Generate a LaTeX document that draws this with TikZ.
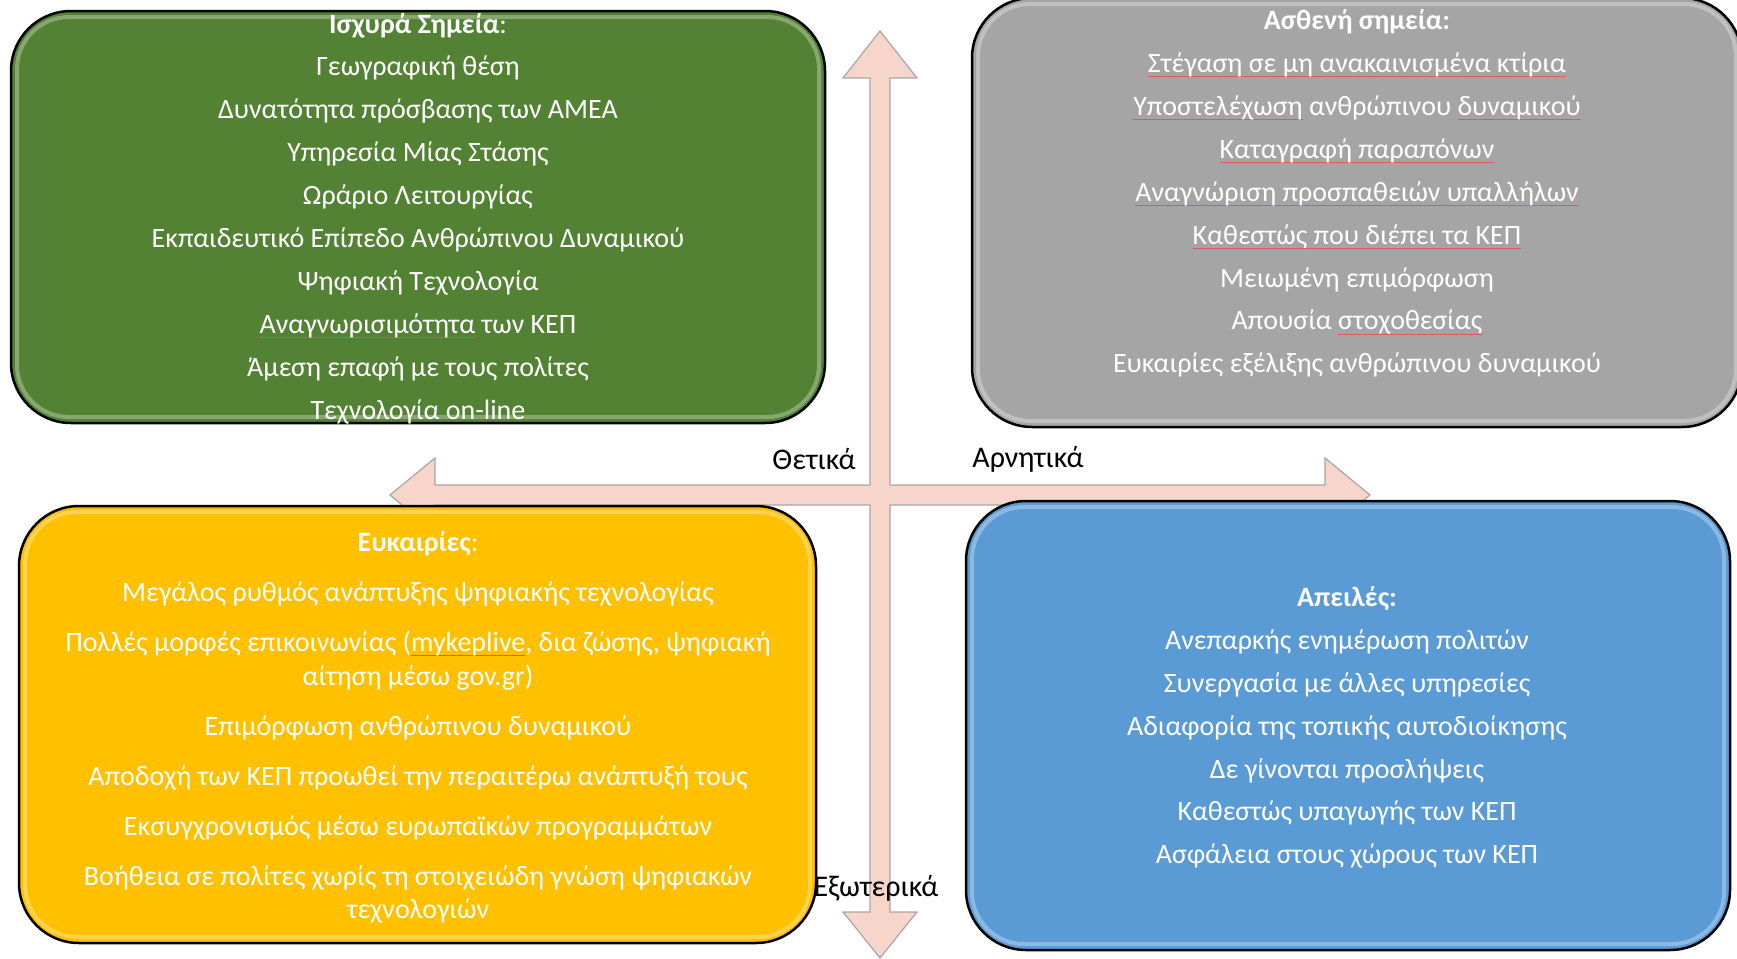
\documentclass[tikz,border=0pt]{standalone}
\usepackage{fontspec}
\setmainfont{Carlito}
\definecolor{sgreen}{HTML}{548235}
\definecolor{sgray}{HTML}{A5A5A5}
\definecolor{syellow}{HTML}{FFC000}
\definecolor{sblue}{HTML}{5B9BD5}
\definecolor{apink}{HTML}{F8D5CB}
\definecolor{aline}{HTML}{A6A6A6}
\definecolor{spellred}{HTML}{E05A5A}
\newsavebox{\spellbox}
\newcommand\redul[1]{\leavevmode\sbox{\spellbox}{#1}\rlap{\textcolor{spellred}{\rule[-0.35ex]{\wd\spellbox}{0.5pt}}}\usebox{\spellbox}}
\tikzset{
  quad/.style={draw=black, line width=1.25pt, rounded corners=30pt},
  gloss/.style={draw=white, opacity=0.3, line width=2pt, rounded corners=26pt},
  txt/.style={text=white, align=center, inner sep=0pt, font=\fontsize{14}{21.45}\selectfont},
  lbl/.style={text=black, inner sep=0pt, font=\fontsize{15}{17}\selectfont},
  crossarrow/.style={fill=apink, draw=aline, line width=0.6pt, line join=miter}
}
\begin{document}
\begin{tikzpicture}[x=0.5pt,y=-0.5pt]
\useasboundingbox (0,0) rectangle (1737,959);
% cross of double arrows
\draw[crossarrow] (880,31) -- (917,78) -- (890,78) -- (890,485) -- (1325,485) -- (1325,458)
  -- (1370,495) -- (1325,532) -- (1325,505) -- (890,505) -- (890,912) -- (917,912)
  -- (880,958) -- (843,912) -- (870,912) -- (870,505) -- (435,505) -- (435,532)
  -- (390,495) -- (435,458) -- (435,485) -- (870,485) -- (870,78) -- (843,78) -- cycle;
% boxes
\draw[quad, fill=sgreen] (11,11) rectangle (825,423);
\draw[gloss] (17,17) rectangle (819,417);
\draw[quad, fill=sgray] (972,-2) rectangle (1742,427);
\draw[gloss] (978,4) rectangle (1736,421);
\draw[quad, fill=syellow] (19,506) rectangle (816,943);
\draw[gloss] (25,512) rectangle (810,937);
\draw[quad, fill=sblue] (966,501) rectangle (1730,950);
\draw[gloss] (972,507) rectangle (1724,944);
% texts
\node[txt] (strengths) at (418,218.5) {\textbf{Ισχυρά Σημεία}:\\
Γεωγραφική θέση\\
Δυνατότητα πρόσβασης των ΑΜΕΑ\\
Υπηρεσία Μίας Στάσης\\
Ωράριο Λειτουργίας\\
Εκπαιδευτικό Επίπεδο Ανθρώπινου Δυναμικού\\
Ψηφιακή Τεχνολογία\\
\redul{Αναγνωρισιμότητα} των ΚΕΠ\\
Άμεση επαφή με τους πολίτες\\
Τεχνολογία on-line};
\node[txt] (weaknesses) at (1357,193.5) {\textbf{Ασθενή σημεία:}\\
\redul{Στέγαση σε μη ανακαινισμένα κτίρια}\\
\redul{Υποστελέχωση} ανθρώπινου \redul{δυναμικού}\\
\redul{Καταγραφή παραπόνων}\\
\redul{Αναγνώριση προσπαθειών υπαλλήλων}\\
\redul{Καθεστώς που διέπει τα ΚΕΠ}\\
Μειωμένη επιμόρφωση\\
Απουσία \redul{στοχοθεσίας}\\
Ευκαιρίες εξέλιξης ανθρώπινου δυναμικού};
\node[txt, font=\fontsize{14}{16.75}\selectfont] (opportunities) at (418,727.5) {\textbf{Ευκαιρίες}:\\[8.25pt]
Μεγάλος ρυθμός ανάπτυξης ψηφιακής τεχνολογίας\\[8.25pt]
Πολλές μορφές επικοινωνίας (\redul{mykeplive}, δια ζώσης, ψηφιακή\\
αίτηση μέσω gov.gr)\\[8.25pt]
Επιμόρφωση ανθρώπινου δυναμικού\\[8.25pt]
Αποδοχή των ΚΕΠ προωθεί την περαιτέρω ανάπτυξή τους\\[8.25pt]
Εκσυγχρονισμός μέσω ευρωπαϊκών προγραμμάτων\\[8.25pt]
Βοήθεια σε πολίτες χωρίς τη στοιχειώδη γνώση ψηφιακών\\
τεχνολογιών};
\node[txt] (threats) at (1347,727.5) {\textbf{Απειλές:}\\
Ανεπαρκής ενημέρωση πολιτών\\
Συνεργασία με άλλες υπηρεσίες\\
Αδιαφορία της τοπικής αυτοδιοίκησης\\
Δε γίνονται προσλήψεις\\
Καθεστώς υπαγωγής των ΚΕΠ\\
Ασφάλεια στους χώρους των ΚΕΠ};
% axis labels
\node[lbl] (pos) at (814,459) {Θετικά};
\node[lbl] (neg) at (1028,459) {Αρνητικά};
\node[lbl] (ext) at (876,888) {Εξωτερικά};
\end{tikzpicture}
\end{document}
